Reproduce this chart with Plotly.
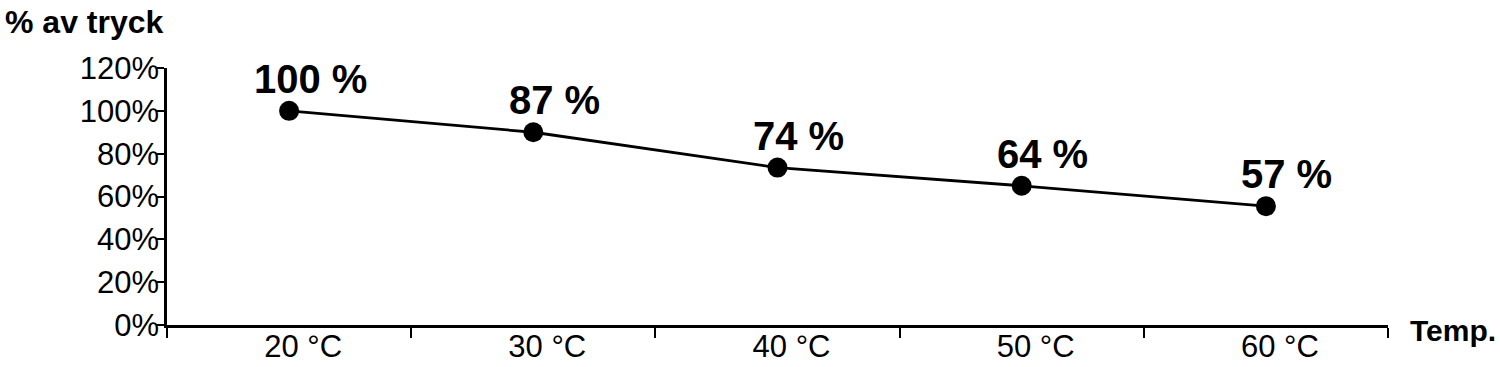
import plotly.graph_objects as go

# Data
categories = ["20 °C", "30 °C", "40 °C", "50 °C", "60 °C"]
plotted_values = [100, 90, 73.5, 65, 55.5]     # positions
label_values = [100, 87, 74, 64, 57]           # printed labels
y_tickvals = [0, 20, 40, 60, 80, 100, 120]
y_ticktext = [f"{v}%" for v in y_tickvals]

FONT = "Liberation Sans, Arial, sans-serif"

fig = go.Figure()
fig.add_trace(go.Scatter(
    x=categories, y=plotted_values,
    mode="lines+markers",
    line=dict(color="black", width=2.8),
    marker=dict(color="black", size=20),
    cliponaxis=False,
    showlegend=False,
))

for c, v, lab in zip(categories, plotted_values, label_values):
    fig.add_annotation(
        x=c, y=v, xref="x", yref="y",
        text=f"<b>{lab} %</b>", showarrow=False,
        xanchor="center", yanchor="bottom",
        xshift=21, yshift=8,
        font=dict(family=FONT, size=40, color="black"),
    )

fig.add_annotation(
    xref="paper", yref="paper", x=0, y=1,
    xanchor="left", yanchor="top", xshift=-164, yshift=66,
    text="<b>% av tryck</b>", showarrow=False,
    font=dict(family=FONT, size=32, color="black"),
)
fig.add_annotation(
    xref="paper", yref="paper", x=1, y=0,
    xanchor="left", yanchor="middle", xshift=20, yshift=-5,
    text="<b>Temp.</b>", showarrow=False,
    font=dict(family=FONT, size=30, color="black"),
)

fig.update_xaxes(
    type="category", range=[-0.5, 4.5], automargin=False,
    showline=True, linecolor="black", linewidth=2.5,
    ticks="outside", tickson="boundaries", ticklen=10, tickwidth=2, tickcolor="black",
    showgrid=False, zeroline=False,
    ticklabelshift=14, ticklabelstandoff=-8,
    tickfont=dict(family=FONT, size=31, color="black"),
)
fig.update_yaxes(
    range=[0, 120], tickvals=y_tickvals, ticktext=y_ticktext, automargin=False,
    showline=True, linecolor="black", linewidth=2.5,
    ticks="outside", ticklen=7, tickwidth=2, tickcolor="black",
    showgrid=False, zeroline=False,
    ticklabelstandoff=-8,
    tickfont=dict(family=FONT, size=31, color="black"),
)

fig.update_layout(
    width=1500, height=367,
    margin=dict(l=167, r=112, t=68, b=42),
    plot_bgcolor="white", paper_bgcolor="white",
)

fig.write_html("out.html")
